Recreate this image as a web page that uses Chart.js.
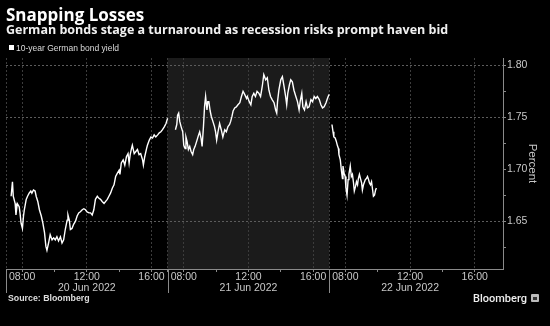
<!DOCTYPE html>
<html>
<head>
<meta charset="utf-8">
<script src="https://cdn.jsdelivr.net/npm/chart.js@4.4.1/dist/chart.umd.min.js"></script>
<style>
  html, body { margin: 0; padding: 0; background: #000; }
  #wrap { position: relative; width: 550px; height: 326px; background: #000; overflow: hidden; }
  #chart { position: absolute; left: 0; top: 0; }
  .txt { position: absolute; white-space: nowrap; color: #fff; }
  #title { left: 6px; top: 6px; font: 700 17px/17px "Open Sans", sans-serif; }
  #subtitle { left: 6px; top: 24px; font: 700 12.5px/12.5px "Open Sans", sans-serif; color: #f0f0f0; }
  #legendBox { position: absolute; left: 9px; top: 45px; width: 5px; height: 5px; background: #fff; }
  #legendText { left: 16px; top: 44px; font: 8.5px/9px "Liberation Sans", Arial, sans-serif; color: #ddd; }
  #source { left: 8px; top: 294px; font: 700 8.8px/9px "Liberation Sans", Arial, sans-serif; color: #ddd; }
  #brand { left: 473px; top: 293px; font: 500 11px/11px Roboto, sans-serif; color: #eee; }
  #brandMark { position: absolute; left: 531px; top: 294px; width: 8px; height: 8px; background: #bbb; border-radius: 1px; }
  #brandMark i { position: absolute; left: 2px; top: 3px; width: 4px; height: 3px; background: #333; }
</style>
</head>
<body>
<div id="wrap">
  <canvas id="chart" width="550" height="326"></canvas>
  <div class="txt" id="title">Snapping Losses</div>
  <div class="txt" id="subtitle">German bonds stage a turnaround as recession risks prompt haven bid</div>
  <div id="legendBox"></div>
  <div class="txt" id="legendText">10-year German bond yield</div>
  <div class="txt" id="source">Source: Bloomberg</div>
  <div class="txt" id="brand">Bloomberg</div>
  <div id="brandMark"><i></i></div>
</div>
<script>
// Trading days shown on the axis
const DAYS = ["20 Jun 2022", "21 Jun 2022", "22 Jun 2022"];

// 10-year German bond yield, intraday (CET), percent
const DAY1_TIMES = ["07:19","07:24","07:27","07:34","07:37","07:42","07:49","07:52","07:56","08:01",
  "08:05","08:08","08:15","08:20","08:26","08:32","08:36","08:42","08:48","08:52",
  "08:58","09:04","09:11","09:17","09:23","09:28","09:32","09:38","09:44","09:51",
  "09:57","10:03","10:09","10:15","10:22","10:28","10:34","10:40","10:47","10:50",
  "10:55","10:59","11:05","11:11","11:18","11:24","11:30","11:36","11:43","11:49",
  "11:55","12:01","12:08","12:14","12:20","12:26","12:32","12:39","12:45","12:51",
  "12:57","13:04","13:10","13:16","13:22","13:28","13:35","13:41","13:47","13:53",
  "14:00","14:03","14:08","14:15","14:21","14:27","14:33","14:37","14:41","14:46",
  "14:49","14:56","15:02","15:08","15:14","15:20","15:27","15:30","15:35","15:42",
  "15:45","15:52","15:58","16:04","16:10","16:16","16:23","16:29","16:35","16:41",
  "16:48","16:54","17:00"];
const DAY1_YIELDS = [1.674,1.688,1.674,1.667,1.656,1.667,1.664,1.658,1.648,1.643,
  1.655,1.661,1.671,1.674,1.677,1.679,1.677,1.680,1.679,1.674,
  1.669,1.661,1.655,1.648,1.639,1.626,1.622,1.629,1.637,1.632,
  1.634,1.632,1.635,1.631,1.635,1.629,1.632,1.642,1.651,1.656,
  1.651,1.642,1.643,1.647,1.650,1.655,1.658,1.659,1.661,1.662,
  1.661,1.659,1.658,1.658,1.656,1.661,1.671,1.674,1.672,1.671,
  1.669,1.667,1.669,1.671,1.674,1.677,1.682,1.685,1.693,1.696,
  1.699,1.695,1.706,1.709,1.704,1.712,1.715,1.706,1.714,1.720,
  1.723,1.715,1.717,1.719,1.714,1.715,1.709,1.704,1.712,1.720,
  1.723,1.728,1.731,1.730,1.733,1.731,1.733,1.735,1.736,1.738,
  1.741,1.744,1.749];

const DAY2_TIMES = ["07:29","07:34","07:37","07:41","07:45","07:50","07:56","08:00","08:05","08:08",
  "08:12","08:17","08:22","08:27","08:33","08:37","08:42","08:48","08:55","08:59",
  "09:04","09:08","09:13","09:17","09:21","09:26","09:29","09:33","09:38","09:42",
  "09:48","09:54","09:58","10:02","10:07","10:13","10:19","10:25","10:32","10:38",
  "10:44","10:50","10:54","10:59","11:03","11:09","11:15","11:21","11:28","11:34",
  "11:40","11:46","11:53","11:56","12:03","12:09","12:14","12:20","12:26","12:32",
  "12:39","12:45","12:49","12:52","12:57","13:04","13:10","13:16","13:22","13:28",
  "13:35","13:41","13:45","13:48","13:53","14:00","14:06","14:12","14:18","14:22",
  "14:26","14:32","14:37","14:43","14:49","14:56","15:02","15:08","15:12","15:18",
  "15:22","15:28","15:34","15:39","15:45","15:52","15:58","16:04","16:10","16:16",
  "16:23","16:29","16:35","16:41","16:48","16:52","16:56","17:00"];
const DAY2_YIELDS = [1.738,1.743,1.752,1.754,1.746,1.741,1.736,1.723,1.720,1.731,
  1.727,1.719,1.722,1.717,1.714,1.719,1.722,1.727,1.733,1.736,
  1.730,1.722,1.741,1.760,1.770,1.757,1.765,1.765,1.756,1.751,
  1.746,1.741,1.736,1.728,1.736,1.744,1.738,1.731,1.738,1.736,
  1.741,1.743,1.746,1.751,1.756,1.759,1.760,1.762,1.764,1.770,
  1.775,1.772,1.768,1.770,1.765,1.762,1.770,1.773,1.770,1.775,
  1.773,1.770,1.776,1.781,1.791,1.786,1.788,1.776,1.770,1.767,
  1.764,1.757,1.754,1.765,1.776,1.786,1.789,1.780,1.770,1.762,
  1.773,1.781,1.786,1.784,1.776,1.770,1.765,1.757,1.765,1.773,
  1.760,1.757,1.765,1.759,1.760,1.767,1.765,1.770,1.768,1.770,
  1.767,1.762,1.759,1.760,1.764,1.767,1.770,1.772];

const DAY3_TIMES = ["07:10","07:14","07:17","07:22","07:26","07:30","07:34","07:36","07:41","07:45",
  "07:49","07:51","07:55","07:59","08:02","08:06","08:10","08:13","08:18","08:22",
  "08:26","08:30","08:33","08:37","08:41","08:45","08:48","08:52","08:56","09:00",
  "09:03","09:07","09:11","09:14","09:18","09:22","09:26","09:29","09:33","09:37",
  "09:41","09:44","09:48","09:52","09:55"];
const DAY3_YIELDS = [1.743,1.736,1.731,1.730,1.727,1.723,1.720,1.714,1.709,1.699,
  1.691,1.703,1.696,1.693,1.682,1.675,1.690,1.695,1.703,1.693,
  1.695,1.687,1.679,1.683,1.688,1.685,1.691,1.695,1.691,1.687,
  1.680,1.685,1.688,1.690,1.691,1.693,1.690,1.687,1.685,1.688,
  1.680,1.674,1.675,1.680,1.682];

// Axis ticks
const Y_TICKS = [1.625, 1.65, 1.675, 1.70, 1.725, 1.75, 1.775, 1.80];
const Y_LABELED = [1.65, 1.70, 1.75, 1.80];
const Y_GRIDLINES = [1.65, 1.75, 1.80];
const HOUR_TICKS = [7, 8, 10, 12, 14, 16];
const HOUR_LABELS = { 8: "08:00", 12: "12:00", 16: "16:00" };
const HOUR_GRIDLINES = [7, 8, 12, 16];

// Each session runs 07:00-17:00; the x value is hours into the three-session window
const OPEN_HOUR = 7;
const SESSION_LENGTH = 10;
const X_MAX = 30.75;
const Y_MIN = 1.604;
const Y_MAX = 1.807;
const HIGHLIGHT_DAY = 1;

function sessionX(dayIndex, hhmm) {
  const [h, m] = hhmm.split(":").map(Number);
  return dayIndex * SESSION_LENGTH + (h + m / 60 - OPEN_HOUR);
}
function hourOf(value) {
  const day = Math.floor(value / SESSION_LENGTH + 1e-6);
  return { day, hour: Math.round((value - day * SESSION_LENGTH + OPEN_HOUR) * 100) / 100 };
}
const same = (a, b) => Math.abs(a - b) < 1e-6;

const sessions = [[DAY1_TIMES, DAY1_YIELDS], [DAY2_TIMES, DAY2_YIELDS], [DAY3_TIMES, DAY3_YIELDS]];
const points = [];
sessions.forEach(([times, yields], d) => {
  if (d > 0) points.push({ x: d * SESSION_LENGTH, y: null });
  times.forEach((t, i) => points.push({ x: sessionX(d, t), y: yields[i] }));
});

// Darker band behind the middle session
const sessionBand = {
  id: 'sessionBand',
  beforeDraw(chart) {
    const { ctx, chartArea, scales } = chart;
    const x0 = scales.x.getPixelForValue(HIGHLIGHT_DAY * SESSION_LENGTH);
    const x1 = scales.x.getPixelForValue((HIGHLIGHT_DAY + 1) * SESSION_LENGTH);
    ctx.save();
    ctx.fillStyle = '#1b1b1b';
    ctx.fillRect(x0, chartArea.top, x1 - x0, chartArea.bottom - chartArea.top);
    ctx.restore();
  }
};

// Long separators between the dates below the axis
const daySeparators = {
  id: 'daySeparators',
  afterDraw(chart) {
    const { ctx, chartArea, scales } = chart;
    ctx.save();
    ctx.strokeStyle = '#8a8a8a';
    ctx.lineWidth = 1;
    DAYS.forEach((_, d) => {
      const x = Math.round(scales.x.getPixelForValue(d * SESSION_LENGTH)) + 0.5;
      ctx.beginPath();
      ctx.moveTo(x, chartArea.bottom);
      ctx.lineTo(x, chartArea.bottom + 24);
      ctx.stroke();
    });
    ctx.restore();
  }
};

new Chart(document.getElementById('chart'), {
  type: 'line',
  data: {
    datasets: [{
      label: '10-year German bond yield',
      data: points,
      borderColor: '#ffffff',
      borderWidth: 1.4,
      pointRadius: 0,
      tension: 0,
      spanGaps: false
    }]
  },
  options: {
    responsive: false,
    animation: false,
    events: [],
    layout: { padding: { top: 58, left: 6, right: 0, bottom: 31 } },
    plugins: { legend: { display: false }, tooltip: { enabled: false } },
    scales: {
      x: {
        type: 'linear',
        min: 0,
        max: X_MAX,
        afterBuildTicks(scale) {
          const ticks = [];
          DAYS.forEach((_, d) => HOUR_TICKS.forEach(h => ticks.push({ value: d * SESSION_LENGTH + h - OPEN_HOUR })));
          scale.ticks = ticks;
        },
        afterFit(scale) { scale.height = 26; },
        grid: {
          color(ctx) {
            const { hour } = hourOf(ctx.tick.value);
            return HOUR_GRIDLINES.some(h => same(h, hour)) ? '#3c3c3c' : 'rgba(0,0,0,0)';
          },
          tickColor: '#8a8a8a',
          tickLength: 3,
          lineWidth: 1
        },
        border: { display: true, color: '#8a8a8a', dash: [2, 2] },
        ticks: {
          autoSkip: false,
          maxRotation: 0,
          padding: 0,
          color: '#c8c8c8',
          font: { family: '"Liberation Sans", Arial, sans-serif', size: 10.5, lineHeight: 1.05 },
          callback(value) {
            const { day, hour } = hourOf(value);
            const label = HOUR_LABELS[Math.round(hour)];
            if (!label || !same(hour, Math.round(hour))) return '';
            return Math.round(hour) === 12 ? [label, DAYS[day]] : label;
          }
        }
      },
      y: {
        position: 'right',
        min: Y_MIN,
        max: Y_MAX,
        afterBuildTicks(scale) { scale.ticks = Y_TICKS.map(v => ({ value: v })); },
        afterFit(scale) { scale.width = 47; },
        grid: {
          color(ctx) {
            return Y_GRIDLINES.some(v => same(v, ctx.tick.value)) ? '#5c5c5c' : 'rgba(0,0,0,0)';
          },
          tickColor: '#8a8a8a',
          tickLength: 3
        },
        border: { display: true, color: '#8a8a8a', dash: [2, 2] },
        ticks: {
          padding: 1,
          color: '#c8c8c8',
          font: { family: '"Liberation Sans", Arial, sans-serif', size: 10.5 },
          callback(value) {
            return Y_LABELED.some(v => same(v, value)) ? value.toFixed(2) : '';
          }
        },
        title: {
          display: true,
          text: 'Percent',
          color: '#c8c8c8',
          font: { family: '"Liberation Sans", Arial, sans-serif', size: 11.5 },
          padding: { top: 11, bottom: 0 }
        }
      }
    }
  },
  plugins: [sessionBand, daySeparators]
});
</script>
</body>
</html>
